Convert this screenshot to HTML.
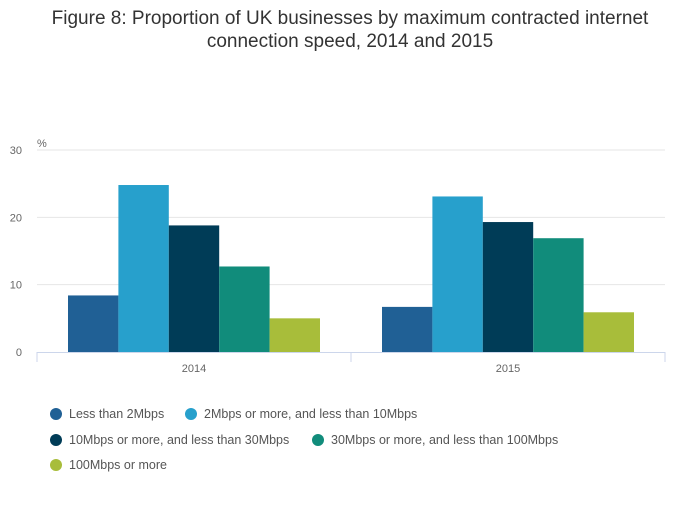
<!DOCTYPE html>
<html><head><meta charset="utf-8"><style>
body{margin:0;background:#fff;font-family:"Liberation Sans",sans-serif;}
</style></head><body>
<svg width="700" height="502" xmlns="http://www.w3.org/2000/svg">
<text x="350" y="24" text-anchor="middle" font-size="19" fill="#333">Figure 8: Proportion of UK businesses by maximum contracted internet</text>
<text x="350" y="47" text-anchor="middle" font-size="19" fill="#333">connection speed, 2014 and 2015</text>
<text x="37" y="147" font-size="11" fill="#666">%</text>
<g id="grid"></g><g id="bars"></g><g id="axes"></g><g id="legend"></g>
</svg>
<script>
const categories=["2014","2015"];
const seriesNames=["Less than 2Mbps","2Mbps or more, and less than 10Mbps","10Mbps or more, and less than 30Mbps","30Mbps or more, and less than 100Mbps","100Mbps or more"];
const colors=["#206095","#27a0cc","#003c57","#118c7b","#a8bd3a"];
const s0=[8.4,6.7];
const s1=[24.8,23.1];
const s2=[18.8,19.3];
const s3=[12.7,16.9];
const s4=[5.0,5.9];
const series=[s0,s1,s2,s3,s4];
const yTicks=[0,10,20,30];
const NS="http://www.w3.org/2000/svg";
const X0=37,X1=665,Y0=352,Y30=150;
const y=v=>Y0-(v/30)*(Y0-Y30);
const catW=(X1-X0)/categories.length;
const pad=31,bw=(catW-2*pad)/series.length;
function mk(t,a,p){const e=document.createElementNS(NS,t);for(const k in a)e.setAttribute(k,a[k]);p.appendChild(e);return e;}
const grid=document.getElementById('grid'),bars=document.getElementById('bars'),axes=document.getElementById('axes'),leg=document.getElementById('legend');
yTicks.forEach(t=>{
 if(t>0){const l=mk('line',{x1:X0,x2:X1,y1:y(t),y2:y(t),stroke:'#e6e6e6','stroke-width':1},grid);
 
 }
 const tx=mk('text',{x:22,y:y(t)+4,'text-anchor':'end','font-size':11,fill:'#666'},axes);tx.textContent=t;
 
 
});
series.forEach((s,si)=>s.forEach((v,ci)=>{
 const r=mk('rect',{x:X0+ci*catW+pad+si*bw,y:y(v),width:bw,height:Y0-y(v),fill:colors[si]},bars);
 
 
}));
const ax=mk('line',{x1:X0,x2:X1,y1:Y0+0.5,y2:Y0+0.5,stroke:'#ccd6eb'},axes);


for(let i=0;i<=categories.length;i++){mk('line',{x1:X0+i*catW,x2:X0+i*catW,y1:Y0,y2:Y0+10,stroke:'#ccd6eb'},axes);}
categories.forEach((c,ci)=>{const t=mk('text',{x:X0+ci*catW+catW/2,y:372,'text-anchor':'middle','font-size':11,fill:'#666'},axes);t.textContent=c;
 
 });
const lp=[[56,415],[191,415],[56,441],[318,441],[56,466]];
seriesNames.forEach((n,i)=>{
 const g=mk('g',{},leg);
 
 
 mk('circle',{cx:lp[i][0],cy:lp[i][1]-1,r:6,fill:colors[i]},g);
 const t=mk('text',{x:lp[i][0]+13,y:lp[i][1]+3,'font-size':12.5,fill:'#555'},g);t.textContent=n;
});
</script>
</body></html>
